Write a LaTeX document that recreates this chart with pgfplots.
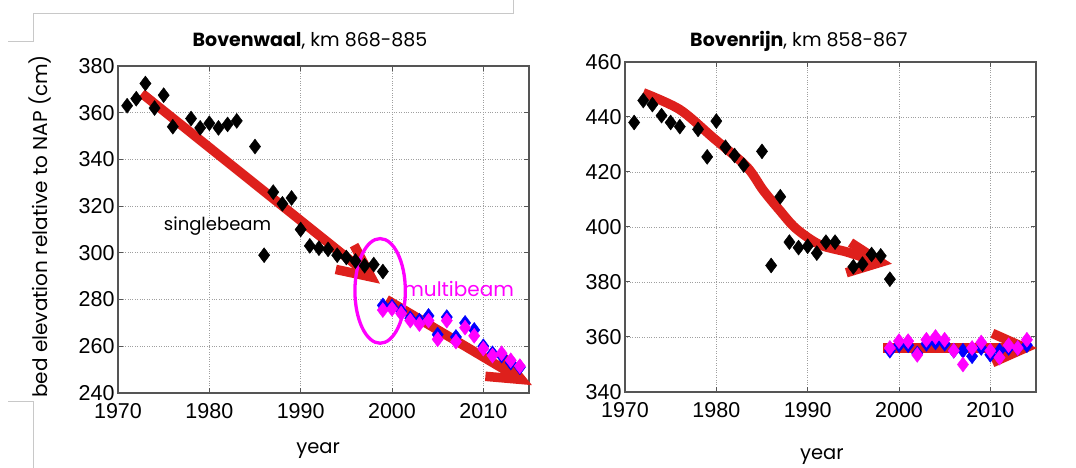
\documentclass[border=0pt]{standalone}
\usepackage{fontspec}
\setmainfont{Liberation Sans}
\newfontfamily\geo{Poppins}
\usepackage{pgfplots}
\pgfplotsset{compat=1.18}
\definecolor{arrred}{RGB}{222,32,28}
\definecolor{axgray}{RGB}{85,85,85}
\definecolor{decgray}{RGB}{200,200,200}
\definecolor{mag}{RGB}{255,0,255}
\definecolor{blu}{RGB}{0,0,255}

\pgfplotsset{
  myax/.style={
    scale only axis, width=411pt,
    axis line style={axgray, line width=1.3pt},
    xmin=1970, xmax=2015,
    xtick={1970,1980,...,2010},
    grid=major,
    major grid style={dotted, gray!75, line width=0.8pt},
    major tick length=5pt,
    tick style={axgray, line width=1pt},
    tick label style={font=\fontsize{21.5}{21.5}\selectfont},
    xticklabel style={yshift=-7pt},
    /pgf/number format/assume math mode=true,
    /pgf/number format/1000 sep={},
    clip=false,
    title style={font=\geo\fontsize{19}{22}\selectfont, anchor=center, yshift=0pt},
    xlabel style={font=\geo\fontsize{19.5}{22}\selectfont, anchor=center},
    ylabel style={font=\geo\fontsize{20}{22}\selectfont, anchor=center},
  },
  sb/.style={only marks, mark=diamond*, mark size=7.5pt, mark options={draw=black, fill=black, line width=0.4pt}},
  mbb/.style={only marks, mark=diamond*, mark size=7.5pt, mark options={draw=blu, fill=blu, line width=0.4pt}},
  mbm/.style={only marks, mark=diamond*, mark size=7.5pt, mark options={draw=mag, fill=mag, line width=0.4pt}},
  redline/.style={draw=arrred, line width=9.5pt, line cap=butt, no marks},
}
\tikzset{head/.style={draw=arrred, line width=9.5pt, line join=miter, line cap=butt}}

\begin{document}
\begin{tikzpicture}
\path[use as bounding box] (0pt,0pt) rectangle (1076pt,468pt);
% slide decoration
\draw[decgray, line width=1pt] (8pt,426pt) -- (33pt,426pt) -- (33pt,454pt) -- (513pt,454pt) -- (513pt,468pt);
\draw[decgray, line width=1pt] (8pt,66pt) -- (33pt,66pt) -- (33pt,0pt);

% ---------------- left axis ----------------
\begin{axis}[myax, at={(118pt,75pt)}, anchor=south west, height=327pt,
  ymin=240, ymax=380, ytick={240,260,...,380},
  title={\textbf{Bovenwaal}, km 868-885},
  title style={at={(axis description cs:0.467,1.058)}},
  xlabel={year},
  xlabel style={at={(axis description cs:0.487,-0.175)}},
  ylabel={bed elevation relative to NAP (cm)},
  ylabel style={at={(axis description cs:-0.19,0.51)}},
]
\addplot[sb] coordinates {
(1971,363) (1972,366) (1973,372.5) (1974,362) (1975,367.5) (1976,354)
(1978,357.5) (1979,353.5) (1980,355.5) (1981,353.5) (1982,355) (1983,356.5)
(1985,345.5) (1986,299) (1987,326) (1988,321) (1989,323.5) (1990,310)
(1991,303) (1992,302) (1993,301.5) (1994,299) (1995,298) (1996,296.5)
(1997,294.5) (1998,295) (1999,292)
};
\addplot[mbb] coordinates {
(1999,277.5) (2000,277) (2001,275) (2002,272) (2003,271) (2004,273)
(2005,265) (2006,272.5) (2007,264) (2008,270) (2009,267) (2010,260)
(2011,257) (2012,256) (2013,253) (2014,251)
};
\addplot[mbm] coordinates {
(1999,275.5) (2000,276) (2001,274) (2002,271) (2003,269.5) (2004,271)
(2005,263) (2006,271) (2007,262) (2008,268) (2009,264.5) (2010,259)
(2011,256) (2012,257) (2013,254) (2014,251.5)
};
\addplot[redline] coordinates {(1972.6,368.3) (1997.7,289.7)};
\draw[head] (axis cs:1997.7,289.7) ++(118:36pt) -- (axis cs:1997.7,289.7) -- ++(168:36pt);
\addplot[redline] coordinates {(1999.4,280) (2014.15,245.8)};
\draw[head] (axis cs:2014.15,245.8) ++(129:36pt) -- (axis cs:2014.15,245.8) -- ++(175:36pt);
\draw[mag, line width=3.3pt] (axis cs:1998.7,283.7) ellipse [x radius=2.76, y radius=22.4];
\node[font=\geo\fontsize{18}{18}\selectfont] at (axis cs:1980.9,311.5) {singlebeam};
\node[font=\geo\fontsize{20}{20}\selectfont, text=mag] at (axis cs:2007.3,284.4) {multibeam};
\end{axis}

% ---------------- right axis ----------------
\begin{axis}[myax, at={(625pt,76pt)}, anchor=south west, height=330pt,
  ymin=340, ymax=460, ytick={340,360,...,460},
  title={\textbf{Bovenrijn}, km 858-867},
  title style={at={(axis description cs:0.423,1.045)}},
  xlabel={year},
  xlabel style={at={(axis description cs:0.479,-0.197)}},
]
\addplot[sb] coordinates {
(1971,438) (1972,446) (1973,444.5) (1974,440.5) (1975,438) (1976,436.5)
(1978,435.5) (1979,425.5) (1980,438.5) (1981,429) (1982,426) (1983,422.5)
(1985,427.5) (1986,386) (1987,411) (1988,394.5) (1989,392.5) (1990,393)
(1991,390.5) (1992,394.5) (1993,394.5) (1995,385.5) (1996,386.5) (1997,390)
(1998,389.5) (1999,381)
};
\addplot[mbb] coordinates {
(1999,355) (2000,357) (2001,357) (2002,354) (2003,357.5) (2004,358)
(2005,357.5) (2006,355) (2007,355) (2008,353) (2009,356) (2010,353.5)
(2011,355) (2012,356) (2013,356) (2014,357)
};
\addplot[mbm] coordinates {
(1999,356) (2000,358.5) (2001,358.5) (2002,353.5) (2003,359) (2004,360)
(2005,359) (2006,355) (2007,350) (2008,356) (2009,358) (2010,355)
(2011,352.5) (2012,357) (2013,356) (2014,359)
};
\addplot[redline, smooth] coordinates {
(1972,448.8) (1976,442.7) (1979.6,432.6) (1983.3,422) (1985.1,413.5)
(1986.9,406.2) (1988.7,399.5) (1991.3,393.6) (1994.2,391.0) (1996,389.1) (1998.0,387.2)
};
\draw[head] (axis cs:1998.0,387.2) ++(147:36pt) -- (axis cs:1998.0,387.2) -- ++(197:36pt);
\addplot[redline] coordinates {(1998.3,356) (2013.83,356)};
\draw[head] (axis cs:2013.83,356) ++(156:36pt) -- (axis cs:2013.83,356) -- ++(204:36pt);
\end{axis}
\end{tikzpicture}
\end{document}
